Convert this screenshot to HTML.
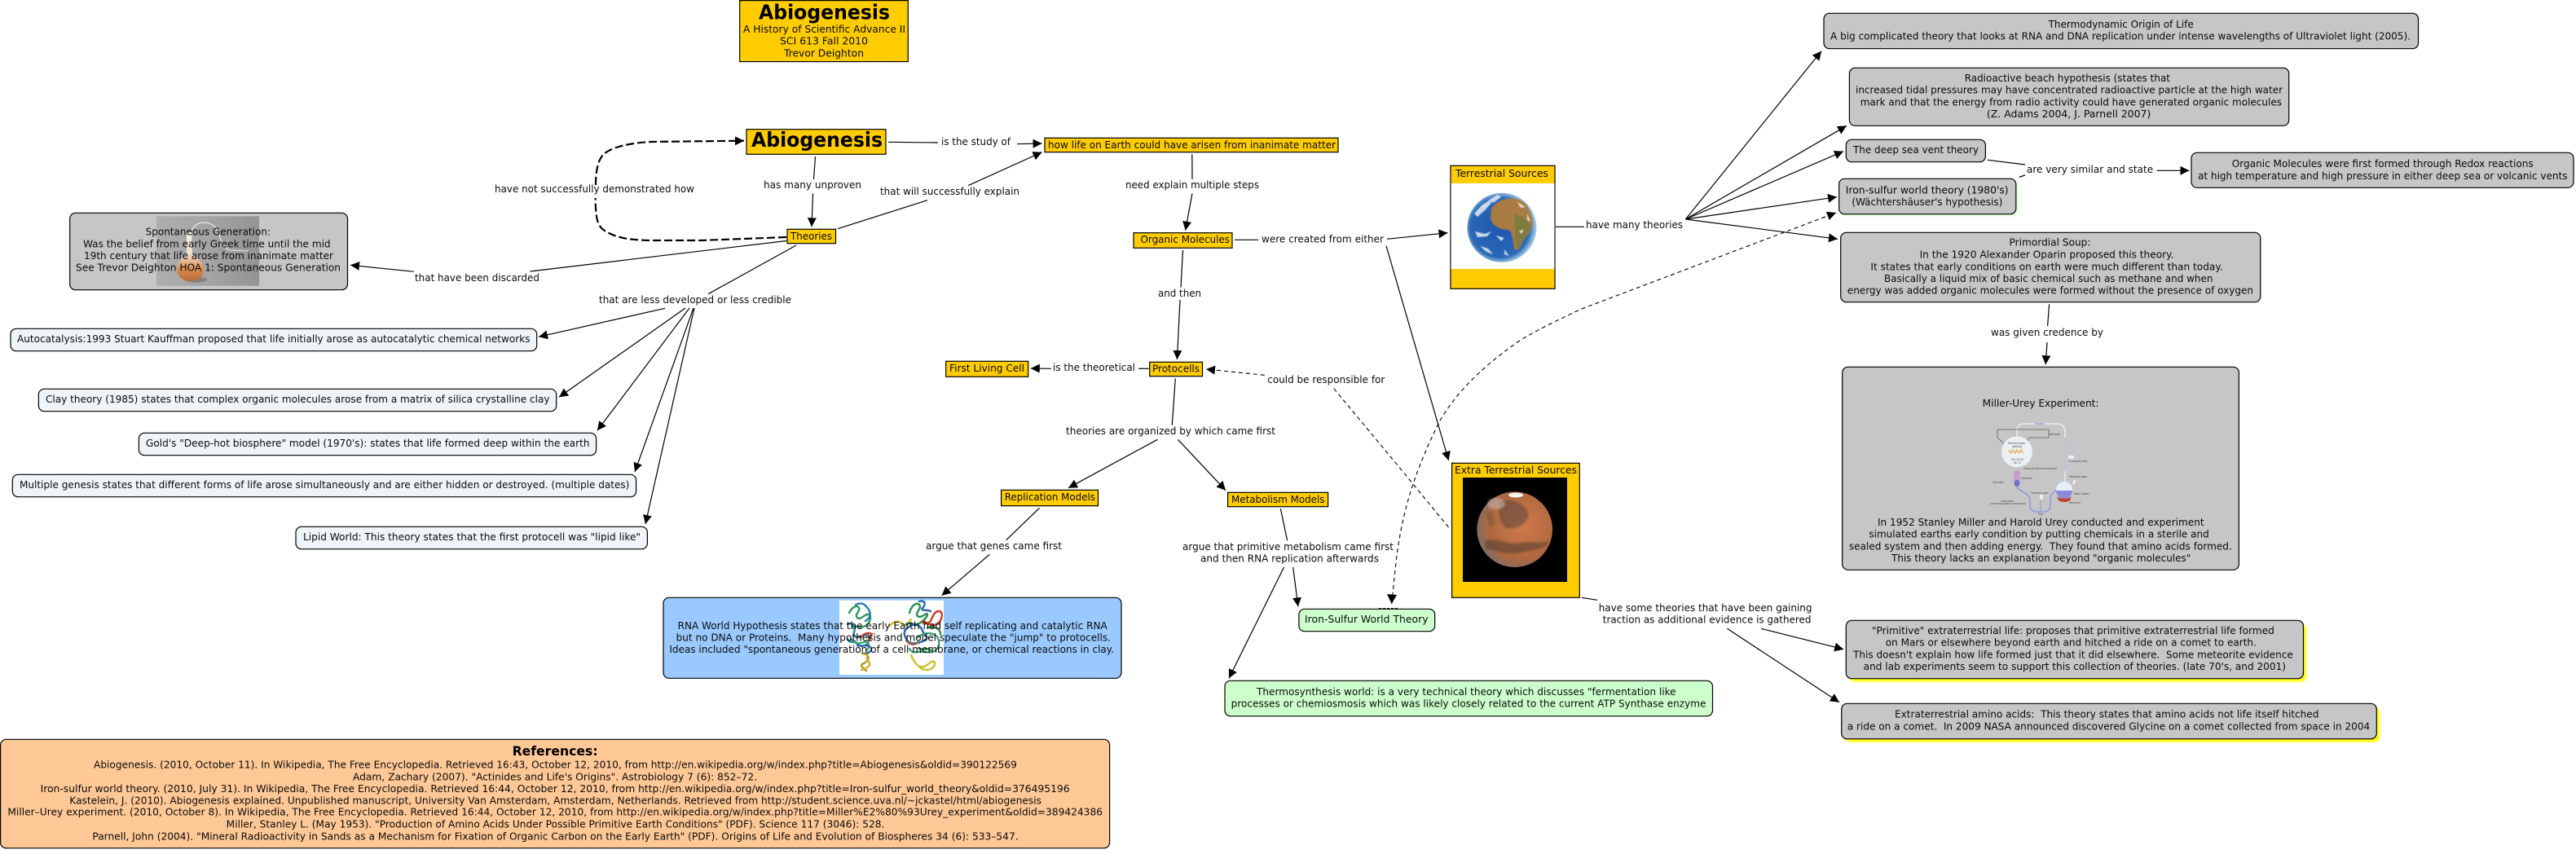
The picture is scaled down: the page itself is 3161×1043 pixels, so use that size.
<!DOCTYPE html>
<html><head><meta charset="utf-8"><title>Abiogenesis</title>
<style>
html,body{margin:0;padding:0;background:#fff;width:3161px;height:1043px;overflow:hidden}
svg{display:block}
text{font-family:"DejaVu Sans","Liberation Sans",sans-serif;font-size:12px;fill:#0a0a0a;white-space:pre}
.b{font-weight:bold;fill:#000}
.t{font-size:3.6px;fill:#444}
</style></head><body>
<svg xmlns="http://www.w3.org/2000/svg" width="3161" height="1043" viewBox="0 0 3161 1043">
<defs>
<marker id="a" markerUnits="userSpaceOnUse" markerWidth="12" markerHeight="12" refX="11" refY="6" orient="auto"><path d="M0,.5L11,6L0,11.5z" fill="#000"/></marker>
<filter id="bl" x="-5%" y="-10%" width="110%" height="120%"><feGaussianBlur stdDeviation="1.2"/></filter>
<filter id="sf" x="-20%" y="-20%" width="140%" height="140%"><feGaussianBlur stdDeviation="1.4"/></filter>
<filter id="s2" x="-20%" y="-20%" width="140%" height="140%"><feGaussianBlur stdDeviation=".6"/></filter>
<linearGradient id="fg" x1="0" y1="0" x2="1" y2="0"><stop offset="0" stop-color="#aeaeae"/><stop offset=".5" stop-color="#a4a4a4"/><stop offset="1" stop-color="#949494"/></linearGradient>
<linearGradient id="fl" x1="0" y1="0" x2="0" y2="1"><stop offset="0" stop-color="#f6f3ee"/><stop offset=".45" stop-color="#eeddcc"/><stop offset=".75" stop-color="#d88c50"/><stop offset="1" stop-color="#b86a36"/></linearGradient>
<radialGradient id="ea" cx=".47" cy=".5" r=".52"><stop offset="0" stop-color="#1f56ae"/><stop offset=".82" stop-color="#2a68b6"/><stop offset="1" stop-color="#a6cde6"/></radialGradient>
<radialGradient id="ma" cx=".6" cy=".45" r=".62"><stop offset="0" stop-color="#d07a4c"/><stop offset=".72" stop-color="#b0683f"/><stop offset="1" stop-color="#7c6e68"/></radialGradient>
</defs>
<rect width="3161" height="1043" fill="#fff"/>

<!-- box backgrounds -->
<g stroke="#000" stroke-width="1.2">
<rect x="907.7" y=".6" width="206.6" height="75" fill="#ffcc00"/>
<rect x="916" y="158.7" width="171" height="30.6" fill="#ffcc00"/>
<rect x="1282" y="169.3" width="360" height="17.4" fill="#ffcc00"/>
<rect x="966" y="281.3" width="59.5" height="17.4" fill="#ffcc00"/>
<rect x="1391" y="285.7" width="121" height="18.6" fill="#ffcc00"/>
<rect x="1160.7" y="443.3" width="101" height="19" fill="#ffcc00"/>
<rect x="1410.7" y="444.3" width="64.8" height="17.4" fill="#ffcc00"/>
<rect x="1228.6" y="601.3" width="118.9" height="19.4" fill="#ffcc00"/>
<rect x="1506.6" y="604.3" width="123" height="17.4" fill="#ffcc00"/>
<rect x="1780" y="203.3" width="128" height="151" fill="#ffcc00"/>
<rect x="1781.6" y="568.3" width="156.7" height="165" fill="#ffcc00"/>
</g>
<rect x="1780.6" y="225" width="126.8" height="105" fill="#fff"/>
<rect x="1795" y="586" width="128" height="128" fill="#000"/>

<g filter="url(#bl)">
<rect x="2259" y="222" width="217.5" height="43" rx="7" fill="#d4ffd4"/>
<rect x="2269" y="765" width="561" height="71.5" rx="7" fill="#ffff00"/>
<rect x="2263.5" y="867" width="656.5" height="43.5" rx="7" fill="#ffff00"/>
</g>
<g stroke="#000" stroke-width="1.2">
<rect x="85.7" y="261.3" width="340.8" height="94.4" rx="7" fill="#c6c6c6"/>
<rect x="2238" y="16.3" width="729.5" height="43.4" rx="7" fill="#c6c6c6"/>
<rect x="2269.4" y="83.3" width="539.3" height="71" rx="7" fill="#c6c6c6"/>
<rect x="2265.3" y="171.3" width="171.1" height="27.4" rx="7" fill="#c6c6c6"/>
<rect x="2256.6" y="219.3" width="217.2" height="43.4" rx="7" fill="#c6c6c6"/>
<rect x="2258.7" y="285.3" width="515.1" height="85.4" rx="7" fill="#c6c6c6"/>
<rect x="2689" y="187.3" width="469" height="43" rx="7" fill="#c6c6c6"/>
<rect x="2260.7" y="450.3" width="486.7" height="249" rx="7" fill="#c6c6c6"/>
<rect x="2265.3" y="761.3" width="561.2" height="71.4" rx="7" fill="#c6c6c6"/>
<rect x="2259.7" y="863.3" width="656.6" height="43.4" rx="7" fill="#c6c6c6"/>
<rect x="13" y="403.3" width="645.7" height="27.4" rx="7" fill="#eef4f7"/>
<rect x="47.4" y="477.3" width="635.3" height="27.4" rx="7" fill="#eef4f7"/>
<rect x="170.4" y="531.3" width="561.2" height="27.4" rx="7" fill="#eef4f7"/>
<rect x="15.3" y="582.3" width="765.3" height="27.4" rx="7" fill="#eef4f7"/>
<rect x="363" y="646.3" width="431.4" height="27.4" rx="7" fill="#eef4f7"/>
<rect x="814" y="733.3" width="562" height="99" rx="7" fill="#99c9ff"/>
<rect x="1593.9" y="747.3" width="166.8" height="27.4" rx="7" fill="#ccffcc"/>
<rect x="1503" y="835.3" width="598.5" height="43.4" rx="7" fill="#ccffcc"/>
<rect x=".6" y="907.3" width="1361" height="133.4" rx="7" fill="#ffc896"/>
</g>

<!-- flask image -->
<rect x="192" y="265.3" width="126" height="85.4" fill="url(#fg)"/>
<ellipse cx="240" cy="343" rx="14" ry="3.5" fill="#808080" filter="url(#s2)"/>
<path d="M232,300C233,288 234,279 243,274.5C252,271 263,274 267,283C271,293 272,304 283,307L306,308" fill="none" stroke="#ececec" stroke-width="1.1"/>
<path d="M229,285L229,312Q217,320 217,330Q218,344 233.5,345Q250,344 250,330Q250,320 236,312L235,285z" fill="url(#fl)"/>

<!-- earth -->
<circle cx="1843" cy="279.3" r="42.5" fill="url(#ea)"/>
<g filter="url(#s2)">
<path d="M1830,256C1838,244 1856,240 1868,247C1876,252 1879,262 1881,272C1880,284 1872,290 1868,298C1866,304 1862,308 1859,306C1856,298 1857,288 1852,282C1842,282 1831,278 1829,268z" fill="#a87c42"/>
<path d="M1858,262C1868,266 1880,272 1878,280C1872,290 1868,298 1862,306C1858,296 1860,278 1858,262z" fill="#5d7a3e" opacity=".55"/>
</g>
<g fill="#f2f7fb" opacity=".8" filter="url(#s2)">
<path d="M1809,262l9,-10l9,-6l3,3l-8,9l-9,8z"/>
<path d="M1826,246l12,-7l4,3l-10,7z"/>
<path d="M1810,284l12,3l8,-3l-5,6l-12,1z"/>
<path d="M1816,302l10,3l6,7l-8,-3z"/>
<path d="M1836,289l10,3l-4,4z"/>
<path d="M1862,248l10,6l-6,1z"/>
<path d="M1874,262l4,10l-4,-2z"/>
<path d="M1846,306l6,8l-6,-2z"/>
<path d="M1864,284l6,-3l-3,6z"/>
</g>

<!-- mars -->
<circle cx="1858.7" cy="649.7" r="46.3" fill="url(#ma)"/>
<g filter="url(#sf)">
<path d="M1842,614C1858,612 1872,618 1876,632C1872,646 1858,650 1848,648C1838,640 1838,626 1842,614z" fill="#5e4a3c" opacity=".6"/>
<path d="M1822,664C1835,658 1850,670 1866,666C1880,664 1890,668 1901,664C1896,676 1880,674 1866,678C1850,682 1834,674 1824,674z" fill="#4e3a30" opacity=".55"/>
<path d="M1824,630l6,-3l5,16l-7,4z" fill="#5e4a3c" opacity=".4"/>
</g>
<ellipse cx="1860" cy="607.5" rx="9" ry="3" fill="#f4f4f0"/>
<ellipse cx="1836" cy="618" rx="11" ry="7" fill="#c8b8b8" opacity=".55" filter="url(#sf)"/>

<!-- RNA image -->
<rect x="1030" y="736.7" width="128" height="91.3" fill="#fff"/>
<g fill="none" stroke-width="2.4" stroke-linejoin="round" stroke-linecap="round">
<path d="M1042,752c4,-8 10,-10 12,-6s-6,8 -2,12s10,-6 14,-4s2,10 -4,14s-12,-2 -16,2" stroke="#2f9a58"/>
<path d="M1050,742c8,-4 12,0 16,6s0,12 -4,14" stroke="#2a7fb0"/>
<path d="M1040,766c6,-4 10,4 8,10s6,8 10,4s10,-2 8,6s-10,8 -14,4s-10,0 -12,-6" stroke="#1f7fa0"/>
<path d="M1044,784c6,6 10,6 16,4s8,4 4,10" stroke="#3aa878"/>
<path d="M1056,782c6,-6 10,-6 14,-4l-4,8" stroke="#c23a2a"/>
<path d="M1052,792c6,2 12,-2 16,2s-2,8 -8,8" stroke="#2a66a8"/>
<path d="M1058,802c8,0 10,6 5,10s-8,2 -4,8l4,3" stroke="#b89020"/>
<path d="M1065,804c-4,6 4,8 2,12s-6,4 -10,6" stroke="#d0b030"/>
<path d="M1092,768c6,-8 12,-6 16,-2s8,-4 10,-6" stroke="#d8c030"/>
<path d="M1116,752c2,-8 8,-14 12,-10s-6,10 -2,14s12,-6 12,-2s-8,10 -12,12s-10,-4 -14,0" stroke="#2a8f50"/>
<path d="M1128,738c8,-2 8,4 4,8s8,2 10,4" stroke="#2a66a8"/>
<path d="M1134,762c6,6 14,6 18,2s6,-14 0,-14s-8,8 -10,12s-8,2 -10,2" stroke="#c83a28"/>
<path d="M1112,772c10,-10 18,-4 20,2s10,8 2,12s-18,6 -22,-2s-2,-10 0,-12" stroke="#2a66a8"/>
<path d="M1126,782c10,-8 24,-6 26,4s-6,16 -16,14s-16,4 -20,-4" stroke="#3aa070"/>
<path d="M1118,804c4,10 10,16 16,14s8,-8 12,-6s-2,10 -8,10s-8,-2 -10,-4" stroke="#cfc030"/>
<path d="M1138,770c10,-2 16,2 16,8M1128,796c6,2 10,-2 14,2" stroke="#30884c"/>
<path d="M1112,786c4,6 12,6 14,2" stroke="#a86848"/>
</g>

<!-- Miller diagram -->
<g fill="none">
<path d="M2475,537V529Q2475,520 2484,520H2524Q2534,520 2534,530V592" stroke="#e8edf4" stroke-width="1.6"/>
<path d="M2534,537V578" stroke="#8e9ad8" stroke-width=".8"/>
<path d="M2497,520h12" stroke="#a9b0dd" stroke-width="1.6"/>
<path d="M2451,527H2514V537H2490M2451,527V537L2465,550M2490,537L2483,550" stroke="#555" stroke-width=".7"/>
<path d="M2475,597C2480,606 2491,604 2491,614V620Q2491,628 2500,628H2507Q2516,628 2516,620V612C2516,606 2520,602 2526,601" stroke="#8e9ad8" stroke-width="1.6"/>
<path d="M2504,612V627" stroke="#8e9ad8" stroke-width="1"/>
</g>
<circle cx="2475" cy="554.3" r="19" fill="#ebf0f2"/>
<path d="M2465,552l2.5,4 2.5,-4 2.5,4 2.5,-4 2.5,4 2.5,-4 2.5,4" fill="none" stroke="#e8a030" stroke-width="1.1"/>
<rect x="2471" y="577" width="8" height="20" rx="3" fill="#c0a0cc"/>
<rect x="2472" y="589" width="6" height="8" rx="3" fill="#7070cc"/>
<circle cx="2533" cy="601" r="10" fill="#e8eef6"/>
<path d="M2523,602a10,10 0 0 0 20,0z" fill="#8a8adc"/>
<path d="M2524,609a10,5 0 0 0 18,0l-2,5a8,4 0 0 1 -14,0z" fill="#c04030"/>
<rect x="2538" y="559" width="7" height="4" fill="#eee"/>
<rect x="2544" y="589" width="3" height="5" fill="#eee" transform="rotate(30 2545 591)"/>
<rect x="2503" y="607" width="3.5" height="6" fill="#f2f2f2"/>
<g>
<text class="t" x="2464" y="545" textLength="21" lengthAdjust="spacingAndGlyphs">Electrical spark</text>
<text class="t" x="2469" y="549" textLength="12" lengthAdjust="spacingAndGlyphs">(lightning)</text>
<text class="t" x="2468" y="565" textLength="15" lengthAdjust="spacingAndGlyphs">H2O, CH4, NH3</text>
<text class="t" x="2471" y="569" textLength="9" lengthAdjust="spacingAndGlyphs">H2, CO</text>
<text class="t" x="2483" y="576" textLength="41" lengthAdjust="spacingAndGlyphs">Gases (primitive atmosphere)</text>
<text class="t" x="2480" y="588" textLength="14" lengthAdjust="spacingAndGlyphs">Condenser</text>
<text class="t" x="2445" y="593" textLength="14" lengthAdjust="spacingAndGlyphs">Cold water</text>
<text class="t" x="2492" y="606" textLength="22" lengthAdjust="spacingAndGlyphs">Sampling probe</text>
<text class="t" x="2455" y="616" textLength="16" lengthAdjust="spacingAndGlyphs">Cooled water</text>
<text class="t" x="2442" y="619" textLength="44" lengthAdjust="spacingAndGlyphs">(containing organic compounds)</text>
<text class="t" x="2501" y="632" textLength="6" lengthAdjust="spacingAndGlyphs">Trap</text>
<text class="t" x="2545" y="607" textLength="19" lengthAdjust="spacingAndGlyphs">Water (ocean)</text>
<text class="t" x="2539" y="618" textLength="14" lengthAdjust="spacingAndGlyphs">Heat source</text>
<text class="t" x="2539" y="567" textLength="22" lengthAdjust="spacingAndGlyphs">to vacuum pump</text>
<text class="t" x="2539" y="586" textLength="22" lengthAdjust="spacingAndGlyphs">Sampling probe</text>
<text class="t" x="2514" y="534" textLength="14" lengthAdjust="spacingAndGlyphs">Electrodes</text>
</g>

<!-- connectors -->
<g fill="none" stroke="#000" stroke-width="1.2">
<path d="M1090,174.3L1151,175"/><path d="M1248,176.7L1278.6,176" marker-end="url(#a)"/>
<path d="M1000.5,192L998.5,220"/><path d="M997.5,237.3L996,278.3" marker-end="url(#a)"/>
<path d="M1028,280.7L1138,245.7"/><path d="M1188,227.7L1278.6,186.7" marker-end="url(#a)"/>
<path d="M1462.8,189.3L1463,220"/><path d="M1463,237.3L1454.6,282.7" marker-end="url(#a)"/>
<path d="M1515,294.3H1544"/>
<path d="M1451.5,307L1449,352.7"/><path d="M1448,368L1444.4,441" marker-end="url(#a)"/>
<path d="M1702,293.3L1776.5,285.7" marker-end="url(#a)"/>
<path d="M1701,301.7L1777.6,565" marker-end="url(#a)"/>
<path d="M1909,278.3H1944"/>
<path d="M2068.4,269L2235,62.7" marker-end="url(#a)"/>
<path d="M2068.4,269L2266,154.3" marker-end="url(#a)"/>
<path d="M2068.4,269L2262,185.7" marker-end="url(#a)"/>
<path d="M2068.4,269L2254,241.7" marker-end="url(#a)"/>
<path d="M2068.4,269L2255,293.3" marker-end="url(#a)"/>
<path d="M2438.8,196.3L2485,202"/><path d="M2477.7,217.3L2485,215"/>
<path d="M2646.6,209.3H2686.4" marker-end="url(#a)"/>
<path d="M2514.6,373.3L2512.6,400"/><path d="M2512,420L2510.2,447.3" marker-end="url(#a)"/>
<path d="M965,295.5L650.5,333"/><path d="M507.7,333.3L430,325.3" marker-end="url(#a)"/>
<path d="M977,301L869,360.7"/>
<path d="M816,378.3L661,413.3" marker-end="url(#a)"/>
<path d="M841,378L686,487.3" marker-end="url(#a)"/>
<path d="M846,378L733,528.3" marker-end="url(#a)"/>
<path d="M851,378L779,579" marker-end="url(#a)"/>
<path d="M852,378L792,643" marker-end="url(#a)"/>
<path d="M1409.7,452.3H1397"/><path d="M1289.8,452.3L1264.8,452" marker-end="url(#a)"/>
<path d="M1442.3,464.3L1438.3,521.7"/>
<path d="M1420.4,539.3L1311,598.7" marker-end="url(#a)"/>
<path d="M1445.4,539.3L1504,601.7" marker-end="url(#a)"/>
<path d="M1275.5,623.3L1234.7,662.7"/><path d="M1214.3,680.3L1155.6,730.7" marker-end="url(#a)"/>
<path d="M1571.4,624.3L1579.6,663.3"/>
<path d="M1586.7,696L1592.9,744.3" marker-end="url(#a)"/>
<path d="M1575.5,696L1508,832.3" marker-end="url(#a)"/>
<path d="M1940.8,733.3L1960,736.3"/>
<path d="M2161,771.3L2262.2,796.7" marker-end="url(#a)"/>
<path d="M2119.4,771.3L2257,861.7" marker-end="url(#a)"/>
</g>

<!-- thick dashed -->
<g fill="none" stroke="#000" stroke-width="2.2" stroke-dasharray="10 4">
<path d="M965,291L860,295L796,295C770,294 755,292 740,281.7C733,276 731,268 730.6,243"/>
<path d="M731,227C731,212 733,198 740,190C750,180 775,175 800,174L913,172.7" marker-end="url(#a)"/>
</g>
<!-- thin dashed -->
<g fill="none" stroke="#000" stroke-width="1.1" stroke-dasharray="5 4">
<path d="M1551.7,460.3L1480,453" marker-end="url(#a)"/>
<path d="M1636.7,476.7L1721.7,579L1780,650"/>
<path d="M1707.7,740.7L1713,690C1720,630 1735,580 1766.7,516.7C1785,485 1815,452 1866.7,416.7C1890,403 1915,391 1940,379.3L2253,261" marker-end="url(#a)"/>
<path d="M1692,746.7H1715" stroke-dasharray="3 2" stroke-width="1.4"/>
</g>
<path d="M1702,729L1714,730L1707.7,741z" fill="#000"/>

<!-- text -->
<g>
<text class="b" x="931" y="23.3" style="font-size:25px" textLength="161" lengthAdjust="spacingAndGlyphs">Abiogenesis</text>
<text x="912" y="40" textLength="199" lengthAdjust="spacingAndGlyphs">A History of Scientific Advance II</text>
<text x="957" y="54.7" textLength="108" lengthAdjust="spacingAndGlyphs">SCI 613 Fall 2010</text>
<text x="962" y="69.3" textLength="98" lengthAdjust="spacingAndGlyphs">Trevor Deighton</text>
<text class="b" x="922" y="180" style="font-size:25px" textLength="161" lengthAdjust="spacingAndGlyphs">Abiogenesis</text>
<text x="1155" y="178" textLength="85" lengthAdjust="spacingAndGlyphs">is the study of</text>
<text x="1286" y="182" textLength="353" lengthAdjust="spacingAndGlyphs">how life on Earth could have arisen from inanimate matter</text>
<text x="937" y="231" textLength="120" lengthAdjust="spacingAndGlyphs">has many unproven</text>
<text x="1080" y="239" textLength="171" lengthAdjust="spacingAndGlyphs">that will successfully explain</text>
<text x="1381" y="231" textLength="164" lengthAdjust="spacingAndGlyphs">need explain multiple steps</text>
<text x="970" y="294" textLength="51" lengthAdjust="spacingAndGlyphs">Theories</text>
<text x="1399.5" y="298" textLength="109.5" lengthAdjust="spacingAndGlyphs">Organic Molecules</text>
<text x="1548" y="297.3" textLength="150" lengthAdjust="spacingAndGlyphs">were created from either</text>
<text x="1421" y="364" textLength="53" lengthAdjust="spacingAndGlyphs">and then</text>
<text x="607" y="236" textLength="245" lengthAdjust="spacingAndGlyphs">have not successfully demonstrated how</text>
<text x="509" y="345" textLength="153" lengthAdjust="spacingAndGlyphs">that have been discarded</text>
<text x="735" y="372" textLength="236" lengthAdjust="spacingAndGlyphs">that are less developed or less credible</text>

<text x="178.6" y="288.7" textLength="153.4" lengthAdjust="spacingAndGlyphs">Spontaneous Generation:</text>
<text x="102" y="303.3" textLength="303.6" lengthAdjust="spacingAndGlyphs">Was the belief from early Greek time until the mid</text>
<text x="103" y="318" textLength="306" lengthAdjust="spacingAndGlyphs">19th century that life arose from inanimate matter</text>
<text x="93" y="332.7" textLength="325" lengthAdjust="spacingAndGlyphs">See Trevor Deighton HOA 1: Spontaneous Generation</text>

<text x="21" y="420" textLength="629.5" lengthAdjust="spacingAndGlyphs">Autocatalysis:1993 Stuart Kauffman proposed that life initially arose as autocatalytic chemical networks</text>
<text x="56" y="494" textLength="618.5" lengthAdjust="spacingAndGlyphs">Clay theory (1985) states that complex organic molecules arose from a matrix of silica crystalline clay</text>
<text x="179" y="548" textLength="544.5" lengthAdjust="spacingAndGlyphs">Gold's "Deep-hot biosphere" model (1970's): states that life formed deep within the earth</text>
<text x="24" y="599" textLength="748.4" lengthAdjust="spacingAndGlyphs">Multiple genesis states that different forms of life arose simultaneously and are either hidden or destroyed. (multiple dates)</text>
<text x="372" y="663" textLength="414" lengthAdjust="spacingAndGlyphs">Lipid World: This theory states that the first protocell was "lipid like"</text>

<text x="1165" y="456" textLength="92" lengthAdjust="spacingAndGlyphs">First Living Cell</text>
<text x="1292" y="455" textLength="101" lengthAdjust="spacingAndGlyphs">is the theoretical</text>
<text x="1414" y="456.7" textLength="58" lengthAdjust="spacingAndGlyphs">Protocells</text>
<text x="1555.3" y="470" textLength="144" lengthAdjust="spacingAndGlyphs">could be responsible for</text>
<text x="1308" y="533" textLength="257" lengthAdjust="spacingAndGlyphs">theories are organized by which came first</text>
<text x="1232.7" y="614" textLength="111.3" lengthAdjust="spacingAndGlyphs">Replication Models</text>
<text x="1511" y="617" textLength="114.5" lengthAdjust="spacingAndGlyphs">Metabolism Models</text>
<text x="1136" y="674" textLength="167" lengthAdjust="spacingAndGlyphs">argue that genes came first</text>
<text x="1451" y="675" textLength="259" lengthAdjust="spacingAndGlyphs">argue that primitive metabolism came first</text>
<text x="1473" y="689.7" textLength="219" lengthAdjust="spacingAndGlyphs">and then RNA replication afterwards</text>

<text x="831.6" y="772" textLength="527.1" lengthAdjust="spacingAndGlyphs">RNA World Hypothesis states that the early Earth had self replicating and catalytic RNA</text>
<text x="829.6" y="786.7" textLength="533.4" lengthAdjust="spacingAndGlyphs">but no DNA or Proteins.  Many hypothesis and model speculate the "jump" to protocells.</text>
<text x="821.4" y="801" textLength="545.6" lengthAdjust="spacingAndGlyphs">Ideas included "spontaneous generation of a cell membrane, or chemical reactions in clay.</text>

<text x="1601" y="764" textLength="151.6" lengthAdjust="spacingAndGlyphs">Iron-Sulfur World Theory</text>
<text x="1542" y="853" textLength="514.6" lengthAdjust="spacingAndGlyphs">Thermosynthesis world: is a very technical theory which discusses "fermentation like</text>
<text x="1510.7" y="867.7" textLength="582.7" lengthAdjust="spacingAndGlyphs">processes or chemiosmosis which was likely closely related to the current ATP Synthase enzyme</text>

<text x="1786" y="217" textLength="114" lengthAdjust="spacingAndGlyphs">Terrestrial Sources</text>
<text x="1785" y="581" textLength="150" lengthAdjust="spacingAndGlyphs">Extra Terrestrial Sources</text>
<text x="1946" y="280" textLength="119" lengthAdjust="spacingAndGlyphs">have many theories</text>
<text x="1961.7" y="750" textLength="261.8" lengthAdjust="spacingAndGlyphs">have some theories that have been gaining</text>
<text x="1966.8" y="764.7" textLength="255.6" lengthAdjust="spacingAndGlyphs">traction as additional evidence is gathered</text>

<text x="2513.6" y="34" textLength="178.1" lengthAdjust="spacingAndGlyphs">Thermodynamic Origin of Life</text>
<text x="2246" y="48.7" textLength="712" lengthAdjust="spacingAndGlyphs">A big complicated theory that looks at RNA and DNA replication under intense wavelengths of Ultraviolet light (2005).</text>
<text x="2410.7" y="100" textLength="252.3" lengthAdjust="spacingAndGlyphs">Radioactive beach hypothesis (states that</text>
<text x="2277" y="114.7" textLength="524" lengthAdjust="spacingAndGlyphs">increased tidal pressures may have concentrated radioactive particle at the high water</text>
<text x="2282.7" y="129.3" textLength="517.3" lengthAdjust="spacingAndGlyphs">mark and that the energy from radio activity could have generated organic molecules</text>
<text x="2437.9" y="144" textLength="201.4" lengthAdjust="spacingAndGlyphs">(Z. Adams 2004, J. Parnell 2007)</text>
<text x="2274" y="188" textLength="154" lengthAdjust="spacingAndGlyphs">The deep sea vent theory</text>
<text x="2264.8" y="237.3" textLength="199.8" lengthAdjust="spacingAndGlyphs">Iron-sulfur world theory (1980's)</text>
<text x="2272.4" y="252" textLength="184.9" lengthAdjust="spacingAndGlyphs">(Wächtershäuser's hypothesis)</text>
<text x="2486.9" y="212" textLength="155.3" lengthAdjust="spacingAndGlyphs">are very similar and state</text>
<text x="2738.8" y="205" textLength="369.9" lengthAdjust="spacingAndGlyphs">Organic Molecules were first formed through Redox reactions</text>
<text x="2697" y="220" textLength="453.5" lengthAdjust="spacingAndGlyphs">at high temperature and high pressure in either deep sea or volcanic vents</text>
<text x="2465.5" y="301.7" textLength="100" lengthAdjust="spacingAndGlyphs">Primordial Soup:</text>
<text x="2355.6" y="316.7" textLength="311.9" lengthAdjust="spacingAndGlyphs">In the 1920 Alexander Oparin proposed this theory.</text>
<text x="2295.4" y="331.3" textLength="432.3" lengthAdjust="spacingAndGlyphs">It states that early conditions on earth were much different than today.</text>
<text x="2312" y="346" textLength="403.5" lengthAdjust="spacingAndGlyphs">Basically a liquid mix of basic chemical such as methane and when</text>
<text x="2266.8" y="360.7" textLength="498.2" lengthAdjust="spacingAndGlyphs">energy was added organic molecules were formed without the presence of oxygen</text>
<text x="2443" y="412" textLength="138" lengthAdjust="spacingAndGlyphs">was given credence by</text>
<text x="2432.7" y="499" textLength="142.8" lengthAdjust="spacingAndGlyphs">Miller-Urey Experiment:</text>
<text x="2304" y="645" textLength="400.6" lengthAdjust="spacingAndGlyphs">In 1952 Stanley Miller and Harold Urey conducted and experiment</text>
<text x="2293.4" y="659.7" textLength="417.3" lengthAdjust="spacingAndGlyphs">simulated earths early condition by putting chemicals in a sterile and</text>
<text x="2268.9" y="674.3" textLength="469.9" lengthAdjust="spacingAndGlyphs">sealed system and then adding energy.  They found that amino acids formed.</text>
<text x="2321" y="689" textLength="367.3" lengthAdjust="spacingAndGlyphs">This theory lacks an explanation beyond "organic molecules"</text>
<text x="2297" y="778" textLength="493.8" lengthAdjust="spacingAndGlyphs">"Primitive" extraterrestrial life: proposes that primitive extraterrestrial life formed</text>
<text x="2313.8" y="792.7" textLength="455.1" lengthAdjust="spacingAndGlyphs">on Mars or elsewhere beyond earth and hitched a ride on a comet to earth.</text>
<text x="2274" y="807.3" textLength="539.8" lengthAdjust="spacingAndGlyphs">This doesn't explain how life formed just that it did elsewhere.  Some meteorite evidence</text>
<text x="2286.7" y="822" textLength="518.3" lengthAdjust="spacingAndGlyphs">and lab experiments seem to support this collection of theories. (late 70's, and 2001)</text>
<text x="2325" y="880.7" textLength="520.4" lengthAdjust="spacingAndGlyphs">Extraterrestrial amino acids:  This theory states that amino acids not life itself hitched</text>
<text x="2266.8" y="895.7" textLength="641.4" lengthAdjust="spacingAndGlyphs">a ride on a comet.  In 2009 NASA announced discovered Glycine on a comet collected from space in 2004</text>

<text class="b" x="628.6" y="927" style="font-size:16px" textLength="105" lengthAdjust="spacingAndGlyphs">References:</text>
<text x="115" y="942.7" textLength="1132.9" lengthAdjust="spacingAndGlyphs">Abiogenesis. (2010, October 11). In Wikipedia, The Free Encyclopedia. Retrieved 16:43, October 12, 2010, from http://en.wikipedia.org/w/index.php?title=Abiogenesis&amp;oldid=390122569</text>
<text x="433" y="957.3" textLength="496" lengthAdjust="spacingAndGlyphs">Adam, Zachary (2007). "Actinides and Life's Origins". Astrobiology 7 (6): 852–72.</text>
<text x="49.6" y="972" textLength="1263" lengthAdjust="spacingAndGlyphs">Iron-sulfur world theory. (2010, July 31). In Wikipedia, The Free Encyclopedia. Retrieved 16:44, October 12, 2010, from http://en.wikipedia.org/w/index.php?title=Iron-sulfur_world_theory&amp;oldid=376495196</text>
<text x="85.3" y="986.7" textLength="1192.7" lengthAdjust="spacingAndGlyphs">Kastelein, J. (2010). Abiogenesis explained. Unpublished manuscript, University Van Amsterdam, Amsterdam, Netherlands. Retrieved from http://student.science.uva.nl/~jckastel/html/abiogenesis</text>
<text x="9.4" y="1000.7" textLength="1343.6" lengthAdjust="spacingAndGlyphs">Miller–Urey experiment. (2010, October 8). In Wikipedia, The Free Encyclopedia. Retrieved 16:44, October 12, 2010, from http://en.wikipedia.org/w/index.php?title=Miller%E2%80%93Urey_experiment&amp;oldid=389424386</text>
<text x="277.7" y="1015.7" textLength="807.7" lengthAdjust="spacingAndGlyphs">Miller, Stanley L. (May 1953). "Production of Amino Acids Under Possible Primitive Earth Conditions" (PDF). Science 117 (3046): 528.</text>
<text x="113.4" y="1030.3" textLength="1136.2" lengthAdjust="spacingAndGlyphs">Parnell, John (2004). "Mineral Radioactivity in Sands as a Mechanism for Fixation of Organic Carbon on the Early Earth" (PDF). Origins of Life and Evolution of Biospheres 34 (6): 533–547.</text>
</g>
</svg>
</body></html>
